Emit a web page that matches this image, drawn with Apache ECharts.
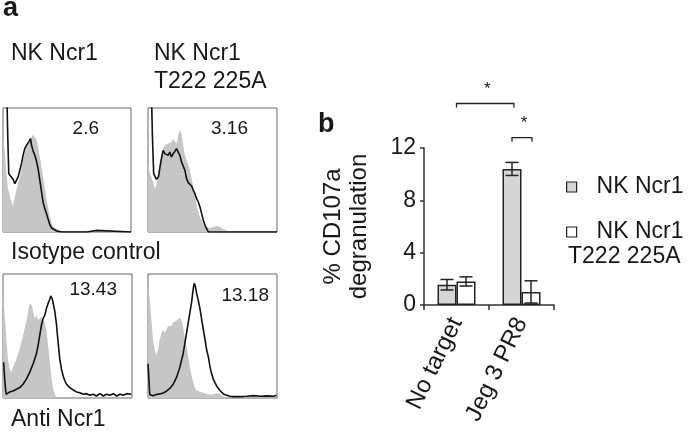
<!DOCTYPE html>
<html><head><meta charset="utf-8">
<script src="https://cdn.jsdelivr.net/npm/echarts@6/dist/echarts.min.js"></script>
<style>html,body{margin:0;padding:0;background:#fff}#c{width:700px;height:433px}</style>
</head><body><div id="c"></div>
<script>
// ---------- data ----------
const categories = ['No target', 'Jeg 3 PR8'];
const seriesNames = ['NK Ncr1', 'NK Ncr1 T222 225A'];
const ncr1Values = [1.55, 10.4];
const ncr1Err = [0.4, 0.5];
const mutValues = [1.8, 1.0];
const mutErr = [0.35, 0.85];
const yTickStep = 4;
const yMax = 12;
// significance brackets: [cat1, side1, cat2, side2, yValue]
const sigBrackets = [[0, 0, 1, -0.8, 15.4], [1, -1, 1, 1.1, 12.8]];

const panelTitles = ['NK Ncr1', 'NK Ncr1\nT222 225A'];
const rowLabels = ['Isotype control', 'Anti Ncr1'];
const histStats = ['2.6', '3.16', '13.43', '13.18'];

// histograms: x = channel (0-100), y = % of max
const h1Gray = [[0,75],[1.3,66],[2.6,48],[3.9,35],[5.2,29.6],[6.5,24.2],[7.9,21.5],[9.2,28.2],[10.5,33.6],[11.8,39],[13.1,44.4],[14.4,51.1],[15.7,57.8],[17,64],[18.3,68.5],[19.6,71.2],[20.9,73.9],[22.3,76.6],[23.6,78.5],[24.9,77.4],[26.2,73.9],[27.5,68.5],[28.8,60.5],[30.1,52.4],[31.4,43],[32.7,35],[34,26.9],[35.3,18.8],[36.6,12.1],[38,6.7],[39.3,4],[41.9,2.7],[44.5,1.3],[47.1,0],[100,0]];
const h1Line = [[2.6,130],[3.7,78],[4.5,47],[5.2,45.7],[6.5,44.4],[7.9,42.5],[9.2,39],[10.5,41.7],[11.8,44.4],[13.1,49.7],[14.4,55.1],[15.7,61.8],[17,67.2],[18.3,69.9],[19.6,71.2],[20.4,73.1],[21.5,75.3],[22.3,69.9],[23.6,65],[24.9,61.8],[26.2,57],[27.5,50.5],[28.8,41.7],[30.1,32.3],[31.4,23.7],[32.7,18.8],[34,14.8],[35.3,10.2],[36.6,5.9],[38,3.2],[39.3,1.9],[41.9,0.8],[44.5,0.3],[47.1,0],[65.4,0],[66.8,1.3],[73.3,1.3],[74.6,0],[100,0]];
const h2Gray = [[0,56.5],[1.3,48.4],[2.6,44.4],[3.9,40.3],[5.2,34.9],[6.5,37.6],[7.8,45.7],[9.1,53.8],[10.4,61.8],[11.7,67.2],[13,69.9],[14.3,68.5],[15.6,71.2],[16.9,69.9],[18.2,72.6],[19.5,75.3],[20.8,76.6],[22.1,71.2],[23.4,78],[24.7,82],[26,79.3],[27.3,69.9],[28.6,61.8],[29.9,57.8],[31.2,53.8],[32.5,49.7],[33.8,43],[35.1,36.3],[36.4,29.6],[37.7,21.5],[39,16.1],[40.3,12.1],[41.6,9.4],[42.9,6.7],[44.2,4],[45.5,2.7],[48.1,3.2],[50.6,4],[53.2,4.8],[55.8,4],[58.4,2.7],[61,1.3],[63.6,0],[100,0]];
const h2Line = [[2.3,130],[3.4,78],[4.4,47],[5.2,45.7],[6.5,42.5],[7.3,40.9],[8.1,44.4],[9.1,51.1],[10.4,59.1],[11.7,65.9],[13,63.2],[14.3,64.5],[15.6,61.8],[16.9,64.5],[18.2,60.5],[19.5,63.2],[20.8,65],[22.1,67.2],[23.4,65.9],[24.7,61.8],[26,56.5],[27.3,55.1],[28.6,49.7],[29.9,43],[31.2,39.8],[32.5,39],[33.8,37.1],[35.1,33.6],[36.4,30.9],[37.7,26.9],[39,24.2],[40.3,20.2],[41.6,14.8],[42.9,9.4],[44.2,5.4],[45.5,2.7],[46.8,0],[100,0]];
const h3Gray = [[0,85.9],[1.3,66.8],[2.6,47.8],[3.9,30.2],[5.2,23.4],[6.5,20.7],[7.8,24.7],[10.4,31.5],[13,39.7],[15.5,50.5],[18.1,61.4],[19.4,69.6],[20.7,76.4],[21.5,77.2],[22.5,74.5],[23.3,69.6],[24.6,64.1],[25.9,66.8],[27.2,62.8],[28.5,64.1],[29.8,65.5],[31.1,62.8],[32.4,60.9],[33.7,53.3],[35,42.4],[36.3,28.8],[37.6,15.2],[38.9,7.1],[40.2,3],[41.5,0],[100,0]];
const h3Line = [[0.5,28.8],[1.3,15.2],[2.1,5.7],[2.6,3],[5.2,4.9],[7.8,5.7],[10.4,7.1],[13,8.4],[15.5,11.1],[18.1,15.2],[20.7,20.7],[23.3,27.4],[25.9,35.6],[27.2,42.4],[28.5,50.5],[29.8,58.7],[31.1,64.1],[32.4,66.8],[33.7,72.3],[35,76.4],[36.3,79.6],[37,82.3],[38.1,80.4],[38.9,76.4],[40.2,69.6],[41.5,58.7],[42.7,45.1],[44,31.5],[45.3,23.4],[46.6,17.9],[47.9,13.9],[49.2,11.1],[51.8,8.4],[54.4,6.5],[57,4.9],[59.6,4.3],[62.2,3],[64.8,3.5],[67.4,2.2],[69.9,3],[72.5,1.6],[75.1,3.5],[77.7,1.6],[80.3,3],[82.9,2.2],[85.5,3.5],[88.1,1.6],[90.7,3],[93.3,2.2],[95.9,3.5],[99.5,3]];
const h4Gray = [[0,91.2],[1.3,80.1],[2.6,63.5],[3.9,47],[5.2,38.7],[6.5,34.5],[7.8,38.7],[9.1,47],[10.4,52.5],[11.7,55.2],[13,52.5],[14.3,55.2],[15.6,58],[16.9,56.6],[18.2,58],[19.5,60.8],[20.8,59.4],[22.1,62.2],[23.4,60.8],[24.7,64.9],[26,62.2],[27.3,56.6],[28.6,48.3],[29.9,41.4],[31.2,33.1],[32.5,24.9],[33.8,18],[35.1,12.4],[36.4,8.3],[37.7,6.1],[40.3,5],[42.9,4.1],[45.5,3.3],[48.1,2.8],[50.6,2.8],[53.2,4.1],[55.8,2.8],[58.4,1.4],[61,0],[100,0]];
const h4Line = [[0,27.6],[0.8,13.8],[1.3,2.8],[3.9,1.9],[6.5,2.8],[9.1,3.3],[11.7,4.1],[14.3,5.5],[16.9,7.7],[19.5,11],[22.1,16.6],[24.7,24.9],[26,30.4],[27.3,35.9],[28.6,44.2],[29.9,52.5],[31.2,60.8],[32.5,69.1],[33.8,77.3],[35.1,88.4],[35.8,92.5],[36.6,90.6],[37.7,84.3],[39,78.7],[40.3,71.8],[41.6,63.5],[42.9,55.2],[44.2,47],[45.5,38.7],[46.8,33.1],[48.1,24.9],[49.4,19.3],[50.6,15.2],[51.9,12.4],[53.2,9.7],[55.8,6.1],[58.4,3.3],[61,2.2],[63.6,1.4],[66.2,1.1],[71.4,1.1],[76.6,1.4],[81.8,1.9],[87,1.4],[92.2,1.7],[97.4,1.4],[99.5,2.2]];

// ---------- styling / layout ----------
const FONT = '"Liberation Sans", Arial, Helvetica, sans-serif';
const INK = '#1a1718';
const HIST_GRAY = '#c6c6c6';
const BAR_GRAY = '#d6d6d6';
const BAR_W = 19;

const histPanels = [
  {grid: {left: 3, top: 108, width: 128, height: 124}, gray: h1Gray, line: h1Line},
  {grid: {left: 148, top: 108, width: 129, height: 124}, gray: h2Gray, line: h2Line},
  {grid: {left: 3, top: 274, width: 129, height: 124}, gray: h3Gray, line: h3Line},
  {grid: {left: 148, top: 274, width: 129, height: 124}, gray: h4Gray, line: h4Line}
];

const chart = echarts.init(document.getElementById('c'), null, {renderer: 'canvas'});

const grids = [], xAxes = [], yAxes = [], series = [];
histPanels.forEach((p, i) => {
  grids.push(Object.assign({show: true, borderColor: '#666', borderWidth: 1, backgroundColor: 'transparent'}, p.grid));
  xAxes.push({type: 'value', gridIndex: i, min: 0, max: 100, show: false});
  yAxes.push({type: 'value', gridIndex: i, min: 0, max: 100, show: false});
  series.push({type: 'line', xAxisIndex: i, yAxisIndex: i, data: p.gray, showSymbol: false, silent: true,
    lineStyle: {width: 0, opacity: 0}, areaStyle: {color: HIST_GRAY, opacity: 1}, z: 1});
  series.push({type: 'line', xAxisIndex: i, yAxisIndex: i, data: p.line, showSymbol: false, silent: true,
    lineStyle: {width: 1.6, color: '#111'}, z: 2});
});

// bar chart
const B = 4;
grids.push({left: 424, top: 148, width: 130, height: 157, show: false});
xAxes.push({type: 'category', gridIndex: B, data: categories,
  axisLine: {lineStyle: {color: '#333', width: 1.5}},
  axisTick: {show: true, length: 5, lineStyle: {color: '#333', width: 1.5}},
  axisLabel: {rotate: 64, fontSize: 24, fontFamily: FONT, color: INK, margin: 14, interval: 0}});
yAxes.push({type: 'value', gridIndex: B, min: 0, max: yMax, interval: yTickStep,
  name: '% CD107a\ndegranulation', nameLocation: 'middle', nameGap: 52, nameRotate: 90,
  nameTextStyle: {fontSize: 24, fontFamily: FONT, color: INK, lineHeight: 26},
  axisLine: {show: true, lineStyle: {color: '#333', width: 1.5}},
  axisTick: {show: true, length: 4, lineStyle: {color: '#333', width: 1.5}},
  splitLine: {show: false},
  axisLabel: {fontSize: 23, fontFamily: FONT, color: INK, margin: 8}});

series.push({name: seriesNames[0], type: 'bar', xAxisIndex: B, yAxisIndex: B, data: ncr1Values,
  barWidth: BAR_W, barGap: '0%', itemStyle: {color: BAR_GRAY, borderColor: '#222', borderWidth: 1.5}, z: 3});
series.push({name: seriesNames[1], type: 'bar', xAxisIndex: B, yAxisIndex: B, data: mutValues,
  barWidth: BAR_W, barGap: '0%', itemStyle: {color: '#fff', borderColor: '#222', borderWidth: 1.5}, z: 3});

const errData = [];
ncr1Values.forEach((v, i) => errData.push([i, v, ncr1Err[i], -1]));
mutValues.forEach((v, i) => errData.push([i, v, mutErr[i], 1]));
series.push({type: 'custom', xAxisIndex: B, yAxisIndex: B, data: errData, z: 5, silent: true,
  encode: {x: 0, y: 1},
  renderItem: (params, api) => {
    const ci = api.value(0), v = api.value(1), e = api.value(2), s = api.value(3);
    const x = api.coord([ci, v])[0] + s * BAR_W / 2;
    const yT = api.coord([ci, v + e])[1], yB = api.coord([ci, v - e])[1];
    const st = {stroke: '#222', lineWidth: 1.5, fill: null};
    const cap = 6.5;
    return {type: 'group', children: [
      {type: 'line', shape: {x1: x, y1: yT, x2: x, y2: yB}, style: st},
      {type: 'line', shape: {x1: x - cap, y1: yT, x2: x + cap, y2: yT}, style: st},
      {type: 'line', shape: {x1: x - cap, y1: yB, x2: x + cap, y2: yB}, style: st}
    ]};
  }});

series.push({type: 'custom', xAxisIndex: B, yAxisIndex: B, data: sigBrackets, z: 5, silent: true, clip: false,
  encode: {x: 0, y: 4},
  renderItem: (params, api) => {
    const c1 = api.value(0), s1 = api.value(1), c2 = api.value(2), s2 = api.value(3), yv = api.value(4);
    const x1 = api.coord([c1, yv])[0] + s1 * BAR_W / 2;
    const x2 = api.coord([c2, yv])[0] + s2 * BAR_W / 2;
    const y = api.coord([c1, yv])[1];
    const st = {stroke: '#222', lineWidth: 1.3, fill: null};
    return {type: 'group', children: [
      {type: 'polyline', shape: {points: [[x1, y + 4], [x1, y], [x2, y], [x2, y + 4]]}, style: st},
      {type: 'text', style: {text: '*', x: (x1 + x2) / 2 + 2, y: y - 14, align: 'center', verticalAlign: 'middle',
        fontSize: 17, fontFamily: FONT, fill: INK}}
    ]};
  }});

// text annotations
const graphics = [];
const txt = (text, x, y, size, opts) => graphics.push({type: 'text', x: x, y: y,
  style: Object.assign({text: text, fontSize: size, fontFamily: FONT, fill: INK, verticalAlign: 'middle'}, opts || {})});
txt('a', 3, 9, 27, {fontWeight: 'bold'});
txt('b', 318, 125, 27, {fontWeight: 'bold'});
txt(panelTitles[0], 11, 54, 23);
txt(panelTitles[1], 154, 40, 23, {verticalAlign: 'top', lineHeight: 28});
txt(rowLabels[0], 11, 253, 23);
txt(rowLabels[1], 11, 420, 23);
txt(histStats[0], 99, 129, 19, {align: 'right'});
txt(histStats[1], 248, 129, 19, {align: 'right'});
txt(histStats[2], 117, 290, 19, {align: 'right'});
txt(histStats[3], 269, 296, 19, {align: 'right'});
// second line of the mutant legend entry (starts under the swatch, as in the figure)
txt(seriesNames[1].slice(seriesNames[1].indexOf('T')), 568, 257, 23);

const legendBase = {orient: 'vertical', padding: 0, icon: 'rect', itemWidth: 10, itemHeight: 10, selectedMode: false,
  itemStyle: {borderColor: '#222', borderWidth: 1.2},
  textStyle: {fontSize: 23, fontFamily: FONT, color: INK, lineHeight: 28, padding: [0, 0, 0, 15]}};

chart.setOption({
  animation: false,
  backgroundColor: '#fff',
  grid: grids, xAxis: xAxes, yAxis: yAxes, series: series,
  legend: [
    Object.assign({}, legendBase, {data: [seriesNames[0]], left: 566, top: 173}),
    Object.assign({}, legendBase, {data: [seriesNames[1]], left: 566, top: 218,
      formatter: n => n.slice(0, n.indexOf(' T'))})
  ],
  graphic: graphics
});
</script></body></html>
